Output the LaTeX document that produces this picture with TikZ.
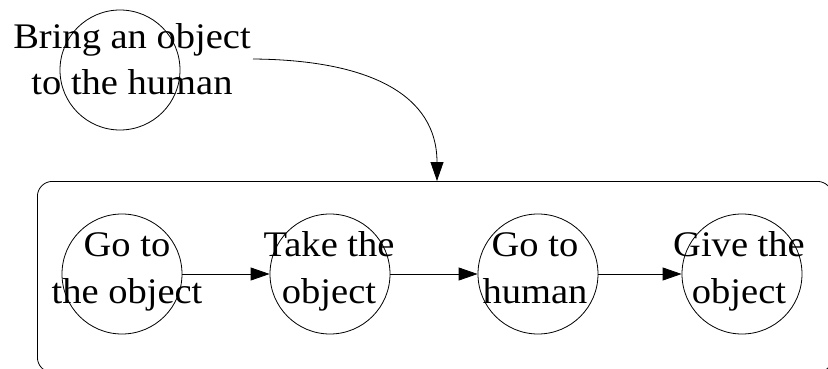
\documentclass[tikz,border=0pt]{standalone}
\usepackage{fontspec}
\setmainfont{Liberation Serif}[FakeStretch=1.07]
\usetikzlibrary{arrows.meta}
\begin{document}
\begin{tikzpicture}[x=1pt,y=-1pt,
  state/.style={draw, circle, minimum size=120pt, inner sep=0pt, line width=0.8pt},
  lbl/.style={align=center, inner sep=0pt, font=\fontsize{36}{46.5}\selectfont, anchor=base},
  flow/.style={line width=0.8pt, -{Triangle[length=19pt,width=13pt]}},
  group/.style={draw, rounded corners=15pt, line width=0.8pt, minimum width=795pt,
    minimum height=191pt, inner sep=0pt, anchor=north west}]
\useasboundingbox (0,0) rectangle (828,369);
\clip (0,0) rectangle (828,369);

% overall task
\node[state] (task) at (120,70) {};
\node[lbl] (tasktxt) at (132,95) {Bring an object\\to the human};

% sub-task group
\node[group] (grp) at (37,181) {};

\node[state] (go1)  at (122,274) {};
\node[state] (take) at (330,274) {};
\node[state] (go2)  at (538,274) {};
\node[state] (give) at (742,274) {};

% labels are anchored on the baseline of their last line
\node[lbl] (go1txt)  at (127,303) {Go to\\the object};
\node[lbl] (taketxt) at (329,303) {Take the\\object};
\node[lbl] (go2txt)  at (535,303) {Go to\\human};
\node[lbl] (givetxt) at (739,303) {Give the\\object};

\draw[flow] (go1) -- (take);
\draw[flow] (take) -- (go2);
\draw[flow] (go2) -- (give);

% decomposition arrow
\coordinate (src) at (253,59);
\coordinate (dst) at (437,181);
\draw[flow] (src) .. controls (370,60) and (437,95) .. (dst);
\end{tikzpicture}
\end{document}
